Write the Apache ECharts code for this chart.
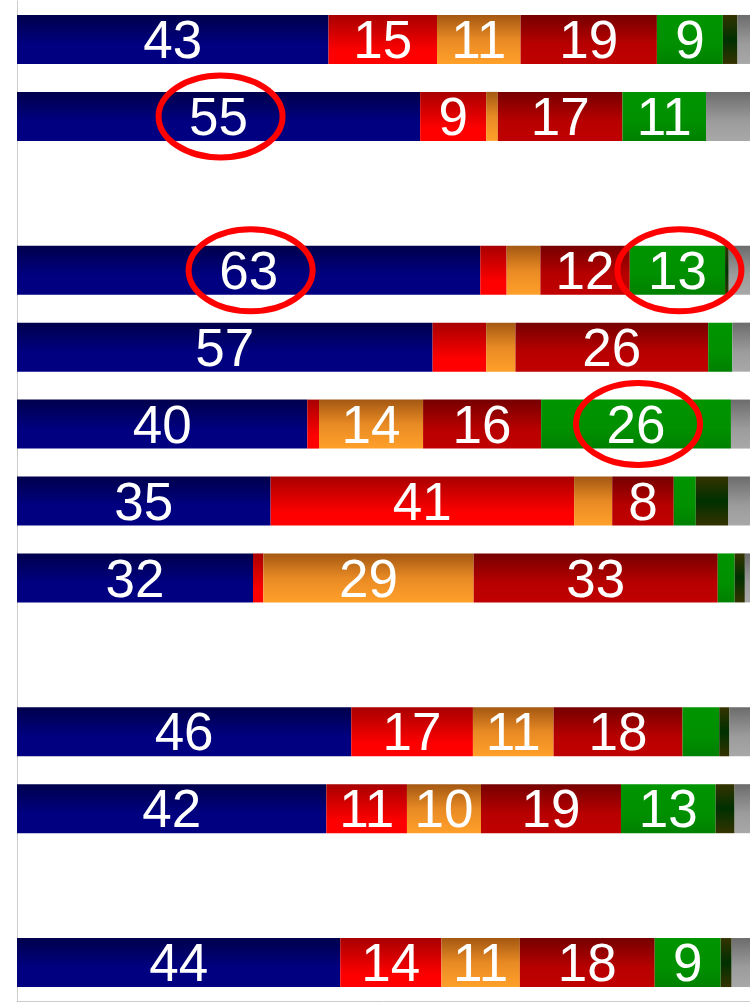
<!DOCTYPE html>
<html>
<head>
<meta charset="utf-8">
<script src="https://cdn.jsdelivr.net/npm/echarts@6/dist/echarts.min.js"></script>
<style>
  html, body { margin: 0; padding: 0; background: #fff; }
  #chart { width: 750px; height: 1002px; }
</style>
</head>
<body>
<div id="chart"></div>
<script>
// 13 slots top to bottom, the "gap" ones stay empty
const rows = ['r1', 'r2', 'gap1', 'r3', 'r4', 'r5', 'r6', 'r7', 'gap2', 'r8', 'r9', 'gap3', 'r10'];

// shares (%) per row
const navy      = [42.5, 55.0, null, 63.2, 56.7, 39.6, 34.6, 32.2, null, 45.6, 42.2, null, 44.1];
const red       = [14.8,  9.0, null,  3.6,  7.3,  1.6, 41.4,  1.4, null, 16.6, 11.0, null, 13.8];
const orange    = [11.4,  1.6, null,  4.6,  4.0, 14.2,  5.2, 28.7, null, 11.0, 10.1, null, 10.7];
const darkRed   = [18.6, 17.0, null, 12.2, 26.3, 16.1,  8.4, 33.3, null, 17.6, 19.1, null, 18.4];
const green     = [ 9.0, 11.4, null, 13.0,  3.3, 25.9,  3.0,  2.3, null,  5.0, 12.9, null,  9.0];
const darkGreen = [ 2.0,  0.0, null,  0.5,  0.0,  0.0,  4.4,  1.4, null,  1.4,  2.6, null,  1.5];
const grey      = [ 1.7,  6.0, null,  2.9,  2.4,  2.6,  3.0,  0.7, null,  2.8,  2.1, null,  2.5];

// labels that get a red ring: [row index, series index]
const circled = [[1, 0], [3, 0], [3, 4], [5, 4]];

const grad = (stops) => new echarts.graphic.LinearGradient(0, 0, 0, 1,
  stops.map(([offset, color]) => ({ offset, color })));

const parts = [
  { name: 'navy', data: navy, color: grad([[0, '#00004c'], [0.6, '#000080'], [1, '#000080']]) },
  { name: 'red', data: red, color: grad([[0, '#a80000'], [0.75, '#ff0000'], [1, '#ff0000']]) },
  { name: 'orange', data: orange, color: grad([[0, '#a45812'], [0.5, '#e88a24'], [1, '#ffa02a']]) },
  { name: 'darkRed', data: darkRed, color: grad([[0, '#760000'], [0.6, '#b80000'], [1, '#c00000']]) },
  { name: 'green', data: green, color: grad([[0, '#009400'], [0.6, '#009000'], [1, '#008000']]) },
  { name: 'darkGreen', data: darkGreen, color: grad([[0, '#343300'], [0.5, '#003000'], [1, '#343300']]) },
  { name: 'grey', data: grey, color: grad([[0, '#6c6c6c'], [0.6, '#9c9c9c'], [1, '#a8a8a8']]) }
];

const chart = echarts.init(document.getElementById('chart'));

chart.setOption({
  animation: false,
  grid: { left: 17, right: 0, top: 1, bottom: 1 },
  xAxis: {
    type: 'value',
    min: 0,
    max: 100,
    axisLine: { show: true, lineStyle: { color: '#cccccc', width: 1 } },
    axisTick: { show: false },
    axisLabel: { show: false },
    splitLine: { show: false }
  },
  yAxis: {
    type: 'category',
    data: rows,
    inverse: true,
    axisLine: { show: true, lineStyle: { color: '#cccccc', width: 1 } },
    axisTick: { show: false },
    axisLabel: { show: false }
  },
  series: parts.map((p) => ({
    name: p.name,
    type: 'bar',
    stack: 'total',
    barWidth: 49,
    data: p.data,
    itemStyle: { color: p.color },
    emphasis: { disabled: true },
    label: {
      show: true,
      position: 'inside',
      color: '#fff',
      fontSize: 53,
      fontFamily: 'Liberation Sans',
      offset: [0, 4],
      formatter: (d) => (d.value >= 7.5 ? Math.round(d.value) : '')
    }
  }))
});

// red rings around the highlighted numbers
chart.setOption({
  graphic: circled.map(([r, s]) => {
    let start = 0;
    for (let i = 0; i < s; i++) start += parts[i].data[r] || 0;
    const mid = start + parts[s].data[r] / 2;
    const [cx, cy] = chart.convertToPixel({ gridIndex: 0 }, [mid, rows[r]]);
    return {
      type: 'ellipse',
      z: 100,
      shape: { cx: cx + 2, cy: cy, rx: 62, ry: 41 },
      style: { fill: 'none', stroke: '#ff0000', lineWidth: 6 }
    };
  })
});
</script>
</body>
</html>
